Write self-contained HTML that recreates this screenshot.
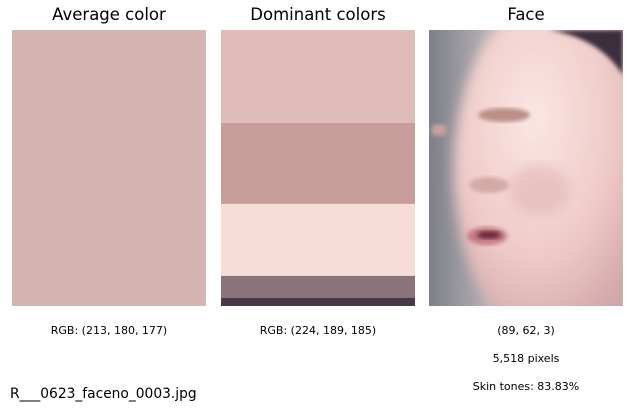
<!DOCTYPE html>
<html><head><meta charset="utf-8"><style>
body{margin:0;background:#fff;width:632px;height:412px;position:relative;overflow:hidden;font-family:"DejaVu Sans","Liberation Sans",sans-serif;}
.t{position:absolute;font-size:16.5px;text-align:center;width:194px;top:5px;color:#000}
.s{position:absolute;font-size:11px;text-align:center;width:194px;color:#000}
</style></head><body>
<div class="t" style="left:12px">Average color</div>
<div class="t" style="left:221px">Dominant colors</div>
<div class="t" style="left:429px">Face</div>
<div style="position:absolute;left:12px;top:30px;width:194px;height:276px;background:rgb(213,180,177)"></div>
<svg id="dom" style="position:absolute;left:221px;top:30px" width="194" height="276"></svg>
<svg style="position:absolute;left:429px;top:30px" width="194" height="276">
<defs>
<linearGradient id="bg" x1="0" x2="1"><stop offset="0" stop-color="#7d7f8a"/><stop offset="0.3" stop-color="#b4aeb2"/><stop offset="1" stop-color="#c9a9ab"/></linearGradient>
<radialGradient id="sk" cx="0.4" cy="0.35" r="0.65"><stop offset="0" stop-color="#fbe6e4"/><stop offset="0.6" stop-color="#efcbc8"/><stop offset="1" stop-color="#d2a8aa"/></radialGradient>
<filter id="bl"><feGaussianBlur stdDeviation="6"/></filter>
<filter id="b2"><feGaussianBlur stdDeviation="2"/></filter>
</defs>
<rect width="194" height="276" fill="url(#bg)"/>
<ellipse cx="125" cy="140" rx="100" ry="175" fill="url(#sk)" filter="url(#bl)"/>
<path d="M120 0 L194 0 L194 45 Q170 8 120 0Z" fill="#3a2e3e" filter="url(#b2)"/>
<ellipse cx="75" cy="85" rx="26" ry="7" fill="#b99088" filter="url(#b2)"/>
<ellipse cx="10" cy="100" rx="8" ry="6" fill="#c8a2a0" filter="url(#b2)"/>
<ellipse cx="110" cy="160" rx="30" ry="25" fill="#dcaeae" opacity="0.5" filter="url(#bl)"/>
<ellipse cx="60" cy="155" rx="20" ry="8" fill="#d4aaa6" filter="url(#b2)"/>
<ellipse cx="58" cy="206" rx="20" ry="9" fill="#c47c88" filter="url(#b2)"/>
<ellipse cx="60" cy="205" rx="12" ry="4" fill="#6a2a3a" filter="url(#b2)"/>
</svg>
<div class="s" style="left:12px;top:324px">RGB: (213, 180, 177)</div>
<div class="s" style="left:221px;top:324px">RGB: (224, 189, 185)</div>
<div class="s" style="left:429px;top:324px">(89, 62, 3)</div>
<div class="s" style="left:429px;top:352px">5,518 pixels</div>
<div class="s" style="left:429px;top:380px">Skin tones: 83.83%</div>
<div style="position:absolute;left:10px;top:386px;font-size:13.8px">R___0623_faceno_0003.jpg</div>
<script>
const shares=[0.337,0.293,0.261,0.080,0.029];
const colors=["rgb(223,188,184)","rgb(200,158,154)","rgb(248,220,216)","rgb(138,116,121)","rgb(71,57,74)"];
const svg=document.getElementById('dom');
const H=276;const total=shares.reduce((a,b)=>a+b,0);
let y=0;
shares.forEach((v,i)=>{
 const h=v/total*H;
 const r=document.createElementNS('http://www.w3.org/2000/svg','rect');
 r.setAttribute('x',0);r.setAttribute('y',y);r.setAttribute('width',194);r.setAttribute('height',h+0.5);
 r.setAttribute('fill',colors[i]);
 
 
 svg.appendChild(r);y+=h;
});
</script>
</body></html>
